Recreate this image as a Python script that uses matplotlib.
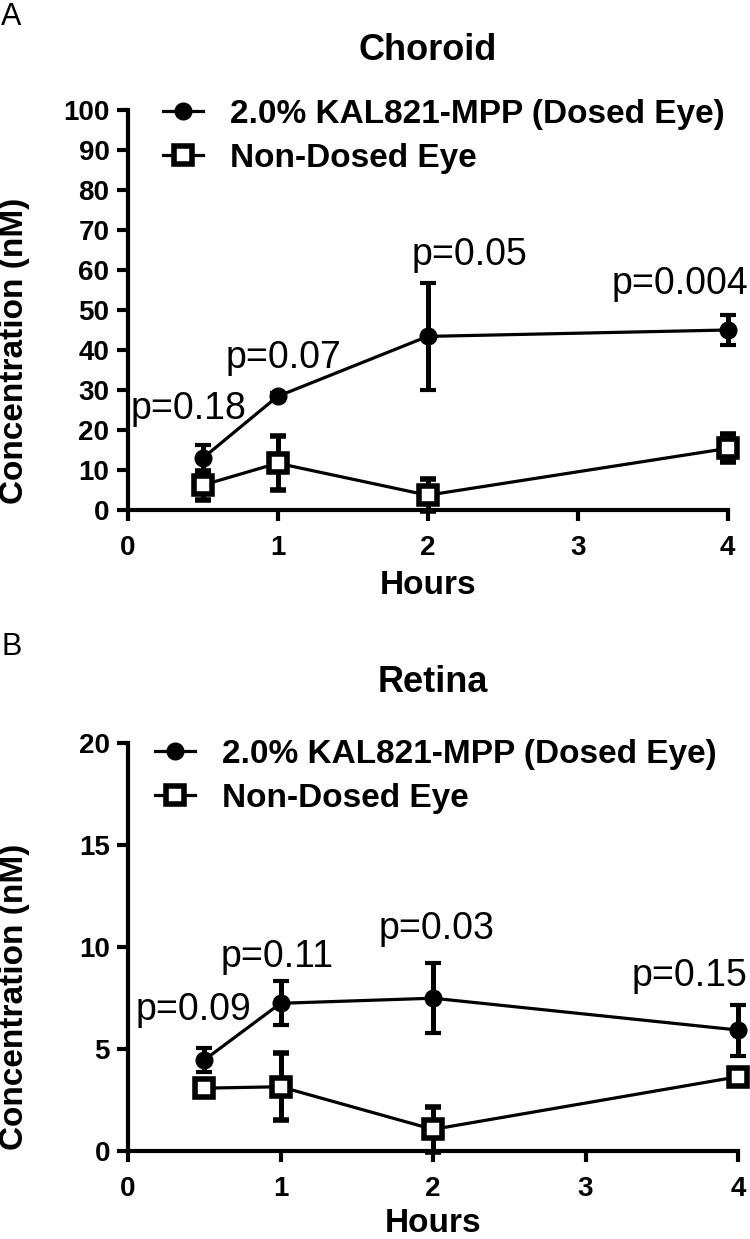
import numpy as np
import matplotlib
matplotlib.use('Agg')
import matplotlib.pyplot as plt
from matplotlib.lines import Line2D

plt.rcParams['font.family'] = ['Liberation Sans', 'DejaVu Sans']

# data
hours = [0.5, 1, 2, 4]

choroid_dosed = [12.9, 28.4, 43.4, 45.0]
choroid_dosed_err = [3.4, 0.8, 13.4, 3.8]
choroid_nondosed = [6.2, 11.7, 3.7, 15.4]
choroid_nondosed_err = [3.6, 6.8, 4.0, 3.5]
choroid_p = ['p=0.18', 'p=0.07', 'p=0.05', 'p=0.004']
choroid_p_x = [0.41, 1.04, 2.28, 3.68]
choroid_p_y = [22.8, 35.6, 61.2, 53.9]

retina_dosed = [4.46, 7.24, 7.49, 5.93]
retina_dosed_err = [0.6, 1.07, 1.72, 1.25]
retina_nondosed = [3.08, 3.15, 1.06, 3.64]
retina_nondosed_err = [0.3, 1.65, 1.1, 0.2]
retina_p = ['p=0.09', 'p=0.11', 'p=0.03', 'p=0.15']
retina_p_x = [0.43, 0.98, 2.02, 3.68]
retina_p_y = [6.4, 9.0, 10.4, 8.1]

labels = ['2.0% KAL821-MPP (Dosed Eye)', 'Non-Dosed Eye']

W, H = 750, 1239
fig = plt.figure(figsize=(W / 100, H / 100), dpi=100)


def px_axes(left, right, top, bottom):
    return fig.add_axes([left / W, 1 - bottom / H, (right - left) / W, (bottom - top) / H])


def draw_panel(ax, dosed, dosed_err, nond, nond_err, ymax, ystep, p_txt, p_x, p_y):
    ax.errorbar(hours, dosed, yerr=dosed_err, color='black', lw=2.3, marker='o', ms=12,
                elinewidth=3.6, capsize=6, capthick=3, clip_on=False, zorder=3)
    ax.errorbar(hours, nond, yerr=nond_err, color='black', lw=2.3, marker='s', ms=13,
                mfc='white', mec='black', mew=4, elinewidth=3.6, capsize=6, capthick=3,
                clip_on=False, zorder=4)
    ax.set_xlim(0, 4)
    ax.set_ylim(0, ymax)
    ax.set_xticks([0, 1, 2, 3, 4])
    ax.set_yticks(np.arange(0, ymax + 1, ystep))
    for s in ['top', 'right']:
        ax.spines[s].set_visible(False)
    for s in ['left', 'bottom']:
        ax.spines[s].set_linewidth(3)
    ax.tick_params(width=3, length=8, labelsize=20, pad=5)
    ax.tick_params(axis='x', pad=10)
    for t in ax.get_xticklabels() + ax.get_yticklabels():
        t.set_fontweight('bold')
    for t, x, y in zip(p_txt, p_x, p_y):
        ax.text(x, y, t, fontsize=27, ha='center', va='baseline')


def draw_legend(ax, x_px, top_px):
    h1 = Line2D([], [], color='black', lw=2.3, marker='o', ms=12)
    h2 = Line2D([], [], color='black', lw=2.3, marker='s', ms=13, mfc='white', mew=4)
    leg = ax.legend([h1, h2], labels, loc='upper left', frameon=False,
                    bbox_to_anchor=(x_px / W, 1 - top_px / H), bbox_transform=fig.transFigure,
                    borderpad=0, borderaxespad=0, handlelength=1.2, handletextpad=0.8,
                    labelspacing=0.38, prop={'weight': 'bold', 'size': 24})
    return leg


# panel A - choroid
axA = px_axes(127.5, 727.7, 110, 510)
draw_panel(axA, choroid_dosed, choroid_dosed_err, choroid_nondosed, choroid_nondosed_err,
           100, 10, choroid_p, choroid_p_x, choroid_p_y)
draw_legend(axA, 163, 99)
fig.text(427.7 / W, 1 - 50 / H, 'Choroid', fontsize=26, fontweight='bold', ha='center', va='center')
fig.text(15 / W, 1 - 351 / H, 'Concentration (nM)', fontsize=24, fontweight='bold',
         rotation=90, ha='center', va='center')
fig.text(427.7 / W, 1 - 585 / H, 'Hours', fontsize=24, fontweight='bold', ha='center', va='center')
fig.text(1 / W, 1 - 17 / H, 'A', fontsize=22, ha='left', va='center')

# panel B - retina
axB = px_axes(128, 738, 743, 1151)
draw_panel(axB, retina_dosed, retina_dosed_err, retina_nondosed, retina_nondosed_err,
           20, 5, retina_p, retina_p_x, retina_p_y)
draw_legend(axB, 155, 739)
fig.text(433 / W, 1 - 682 / H, 'Retina', fontsize=26, fontweight='bold', ha='center', va='center')
fig.text(15 / W, 1 - 997 / H, 'Concentration (nM)', fontsize=24, fontweight='bold',
         rotation=90, ha='center', va='center')
fig.text(433 / W, 1 - 1223 / H, 'Hours', fontsize=24, fontweight='bold', ha='center', va='center')
fig.text(1 / W, 1 - 647 / H, 'B', fontsize=22, ha='left', va='center')

fig.savefig('out.png', dpi=100)
